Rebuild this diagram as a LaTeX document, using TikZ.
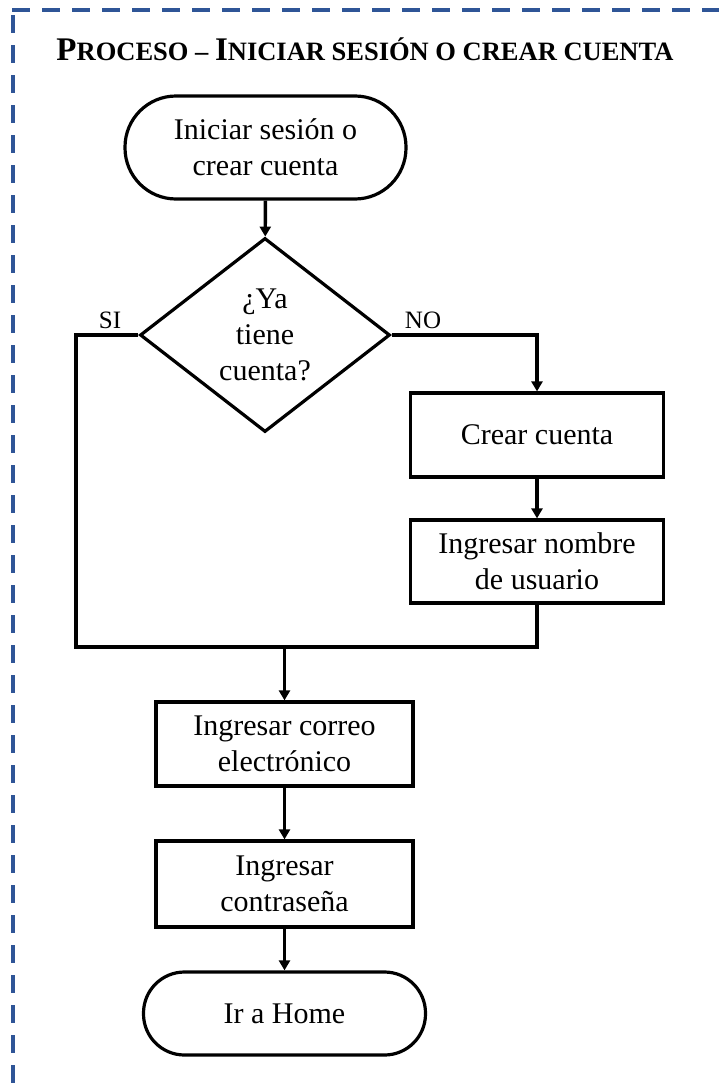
\documentclass[tikz,border=0pt]{standalone}
\usepackage{fontspec}
\setmainfont{Liberation Serif}
\usetikzlibrary{shapes.geometric,arrows.meta}

% Small-caps heading built from two sizes of capitals
\newcommand\hdcapL[1]{{\fontsize{33}{33}\selectfont #1}}
\newcommand\hdcapS[1]{{\fontsize{26.5}{26.5}\selectfont #1}}

\definecolor{framecol}{RGB}{47,85,151}

\tikzset{
  every node/.style={font=\fontsize{30}{36}\selectfont, align=center},
  box/.style={draw, line width=3.2pt, rectangle, inner sep=0pt},
  term/.style={box, rounded corners=41pt},
  procbox/.style={box, minimum width=253pt},
  decision/.style={draw, line width=3.2pt, diamond, inner sep=0pt, aspect=1.3,
                   minimum width=250pt, minimum height=194pt},
  link/.style={line width=3.4pt},
  arr/.style={link, -{Triangle[length=10pt,width=11pt]}},
  lbl/.style={font=\fontsize{25}{25}\selectfont, anchor=base},
  frame/.style={draw=framecol, line width=3.2pt, dash pattern=on 18pt off 12pt}
}

\begin{document}
\begin{tikzpicture}[x=1pt, y=-1pt]
  \useasboundingbox (0,0) rectangle (718,1084);

  % dashed frame (top and left edges run past the page)
  \draw[frame] (12,10) -- (740,10);
  \draw[frame] (13,15) -- (13,1100);

  % heading
  \node[anchor=base, font=\bfseries] (title) at (365,60)
    {\hdcapL{P}\hdcapS{ROCESO – }\hdcapL{I}\hdcapS{NICIAR SESIÓN O CREAR CUENTA}};

  % flow nodes
  \node[term, minimum width=281pt, minimum height=103pt, rounded corners=51pt]
    (start) at (265.5,147.5) {Iniciar sesión o\\crear cuenta};
  \node[decision] (dec) at (265,335) {¿Ya\\tiene\\cuenta?};
  \node[procbox, minimum height=84pt] (crear) at (537,435) {Crear cuenta};
  \node[procbox, minimum height=83pt] (nombre) at (537,561.5) {Ingresar nombre\\de usuario};
  \node[box, minimum width=257pt, minimum height=84pt] (correo) at (284.5,744) {Ingresar correo\\electrónico};
  \node[box, minimum width=257pt, minimum height=86pt] (pass) at (284.5,884) {Ingresar\\contraseña};
  \node[term, minimum width=282pt, minimum height=83pt] (home) at (284.5,1013.5) {Ir a Home};

  % branch labels
  \node[lbl] (si) at (110,328) {SI};
  \node[lbl] (no) at (423,328) {NO};

  % merge points
  \coordinate (mL) at (76,647);
  \coordinate (mR) at (nombre.south |- mL);
  \coordinate (mC) at (correo.north |- mL);

  % connectors
  \draw[arr] (start) -- (dec);
  \draw[arr] (dec.east) -| (crear.north);
  \draw[arr] (crear) -- (nombre);
  \draw[link] (dec.west) -| (mL) -- (mR) -- (nombre.south);
  \draw[arr] (mC) -- (correo.north);
  \draw[arr] (correo) -- (pass);
  \draw[arr] (pass) -- (home);
\end{tikzpicture}
\end{document}
